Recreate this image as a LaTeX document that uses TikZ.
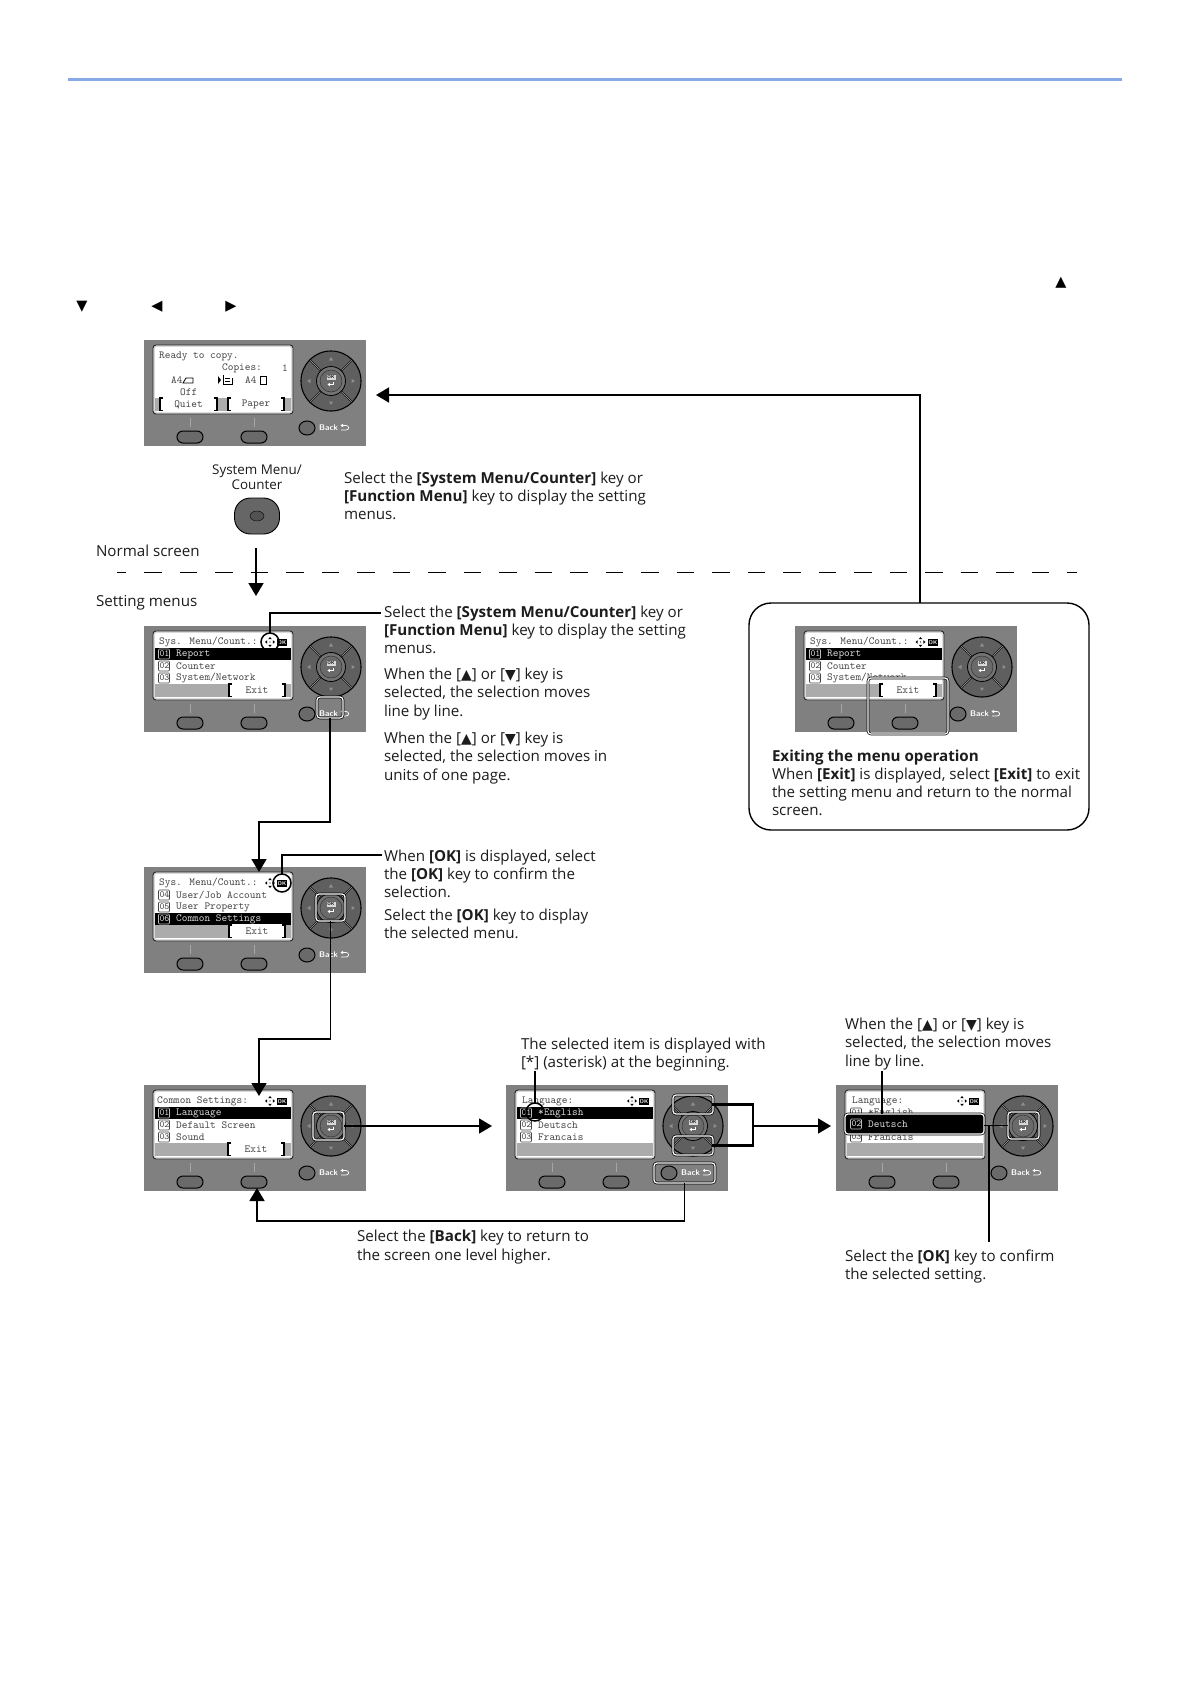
\documentclass[tikz,border=0pt]{standalone}
\usepackage{fontspec}
\setmainfont{Open Sans}
\newfontfamily\symf{DejaVu Sans}
\usetikzlibrary{arrows.meta,shapes.geometric}
\definecolor{ink}{HTML}{1C1C1C}
\definecolor{panelgray}{HTML}{808080}
\definecolor{keygray}{HTML}{6A6A6A}
\definecolor{barpale}{HTML}{ABABAB}
\definecolor{lcdink}{HTML}{444444}
\definecolor{rulecol}{HTML}{87A9E6}
\newcommand\tup{{\symf\fontsize{14}{14}\selectfont ▲}}
\newcommand\tdn{{\symf\fontsize{14}{14}\selectfont ▼}}
\newcommand\lcdf{\ttfamily}
\newcount\lcdn
\tikzset{
  x=1pt,y=-1pt,
  txt/.style={anchor=west,inner sep=0pt,outer sep=0pt,align=left,text=ink,font=\fontsize{15.15}{18.1}\selectfont},
  lcdt/.style={anchor=west,inner sep=0pt,text=lcdink,font=\lcdf\fontsize{10.8}{11}\selectfont},
  lcdw/.style={anchor=west,inner sep=0pt,text=black!15,font=\lcdf\fontsize{10.8}{11}\selectfont},
  panelbg/.style={anchor=north west,minimum width=222pt,minimum height=106pt,inner sep=0pt,outer sep=0pt,fill=panelgray},
  hl/.style={draw=black,double=white,double distance=1.2pt,line width=.7pt,rounded corners=3pt,inner sep=0pt,outer sep=0pt},
  callout/.style={circle,draw=black,line width=1.5pt,minimum size=18pt,inner sep=0pt,outer sep=0pt},
  conn/.style={draw=black,line width=1.6pt},
  arr/.style={conn,-{Triangle[length=13pt,width=15pt]}},
  softk/.style={line width=1.2pt,draw=black}
}
% one line of panel text
\newcommand\lt[4][lcdt]{\global\advance\lcdn by 1
  \node[#1] (lt\the\lcdn) at (#2,#3) {#4};}
% numbered row
\newcommand\lrow[3]{%
  \draw[lcdink,line width=.6pt,rounded corners=1pt] (14.5,#1-5) rectangle (25.5,#1+5);
  \lt[lcdt,font=\lcdf\fontsize{9.4}{10}\selectfont]{15.3}{#1}{#2}
  \lt{32}{#1}{#3}}
\newcommand\lrowsel[3]{%
  \fill[black] (11,#1-6) rectangle (147,#1+6);
  \draw[black!25,line width=.6pt,rounded corners=1pt] (14.5,#1-5) rectangle (25.5,#1+5);
  \lt[lcdw,font=\lcdf\fontsize{9.4}{10}\selectfont]{15.3}{#1}{#2}
  \lt[lcdw]{32}{#1}{#3}}
% soft key, right or left
\newcommand\softkey[3]{%
  \fill[white] (#1,57) rectangle (#2,71);
  \draw[softk] (#1+3,58) -- (#1,58) -- (#1,70.5) -- (#1+3,70.5);
  \draw[softk] (#2-3,58) -- (#2,58) -- (#2,70.5) -- (#2-3,70.5);
  \global\advance\lcdn by 1
  \node[lcdt,anchor=center] (sk\the\lcdn) at ({(#1+#2)/2},64.5) {#3};}
\newcommand\padicon[1]{%
  \begin{scope}[shift={(#1,16)}]
    \fill[black] (0,-5) -- (1.8,-2.8) -- (-1.8,-2.8) -- cycle
                 (0,5) -- (1.8,2.8) -- (-1.8,2.8) -- cycle
                 (-5,0) -- (-2.8,1.8) -- (-2.8,-1.8) -- cycle
                 (5,0) -- (2.8,1.8) -- (2.8,-1.8) -- cycle;
    \fill[black] (0,0) circle (.7);
  \end{scope}}
\newcommand\okicon{%
  \global\advance\lcdn by 1
  \fill[black] (133,12.5) rectangle (143,20);
  \node[inner sep=0pt,text=white,font=\sffamily\bfseries\fontsize{5.5}{6}\selectfont] (ok\the\lcdn) at (138,16.2) {OK};}
% the panel with its keys
\newcommand\lcdpanel[3]{%
  \global\advance\lcdn by 1
  \node[panelbg] (#3) at (#1,#2) {};
  \begin{scope}[shift={(#1,#2)}]
    \draw[fill=black!15,draw=black!85,line width=.9pt,rounded corners=3pt] (9,5) rectangle (149,74);
    \fill[white,rounded corners=2pt] (11,7) rectangle (147,72);
    \fill[barpale] (11,58) rectangle (147,71);
    \draw[black!35,line width=.7pt] (46,78) -- (46,87) (110,78) -- (110,87);
    \draw[black,line width=1pt,fill=keygray,rounded corners=6pt] (33,91) rectangle (59,103);
    \draw[black,line width=1pt,fill=keygray,rounded corners=6pt] (97,91) rectangle (123,103);
    \draw[black,line width=1pt,fill=keygray] (163,88) ellipse (8 and 7);
    \node[anchor=west,inner sep=0pt,text=white,font=\sffamily\bfseries\fontsize{8.2}{9}\selectfont] (bk\the\lcdn) at (175,88) {Back};
    \draw[white,line width=.7pt] (199,85.5) -- (202,85.5) .. controls (205.5,85.5) and (205.5,90) .. (202,90) -- (197,90);
    \fill[white] (196.5,85.5) -- (199,83.8) -- (199,87.2) -- cycle;
    \begin{scope}[shift={(187,41)}]
      \fill[keygray!90!black] (0,0) circle (30);
      \foreach \a in {45,135,225,315}
        \draw[black,double=black!35,double distance=.5pt,line width=.6pt] (\a:14.5) -- (\a:29.5);
      \draw[black,line width=1.1pt] (0,0) circle (30);
      \draw[black,line width=.8pt,fill=black!55] (0,0) circle (14.5);
      \draw[black!80,line width=.5pt,fill=keygray] (0,0) circle (11);
      \fill[black!45] (0,-24) -- (2.2,-20.5) -- (-2.2,-20.5) -- cycle
                      (0,24) -- (2.2,20.5) -- (-2.2,20.5) -- cycle
                      (-24,0) -- (-20.5,2.2) -- (-20.5,-2.2) -- cycle
                      (24,0) -- (20.5,2.2) -- (20.5,-2.2) -- cycle;
      \fill[black!15] (-4.5,-6.5) rectangle (4.5,-1);
      \node[inner sep=0pt,text=black,font=\sffamily\bfseries\fontsize{4.5}{5}\selectfont] (dk\the\lcdn) at (0,-3.7) {OK};
      \draw[white,line width=.7pt] (2.5,1) -- (2.5,3.5) -- (-1.5,3.5);
      \fill[white] (-3.5,3.5) -- (-1.2,1.9) -- (-1.2,5.1) -- cycle;
    \end{scope}
  \end{scope}}
\begin{document}
\begin{tikzpicture}
\useasboundingbox (0,0) rectangle (1190,1684);
\fill[white] (0,0) rectangle (1190,1684);
\coordinate (ruleL) at (68,79);
\coordinate (ruleR) at (1122,79);
\draw[rulecol,line width=3pt] (ruleL) -- (ruleR);
% loose triangles
\node[inner sep=0pt,text=black,font=\symf\fontsize{14.5}{15}\selectfont] (triA) at (1061,283) {▲};
\node[inner sep=0pt,text=black,font=\symf\fontsize{14.5}{15}\selectfont] (triB) at (82,307) {▼};
\node[inner sep=0pt,text=black,font=\symf\fontsize{14.5}{15}\selectfont] (triC) at (157,307) {◀};
\node[inner sep=0pt,text=black,font=\symf\fontsize{14.5}{15}\selectfont] (triD) at (231,307) {▶};
% separator
\coordinate (dashL) at (117,572);
\coordinate (dashR) at (1077,572);
\draw[black,line width=1pt,dash pattern=on 17.5pt off 18pt,dash phase=8.5pt] (dashL) -- (dashR);
% exit frame
\node[draw=black,line width=1.4pt,rounded corners=22pt,minimum width=340pt,minimum height=227pt,inner sep=0pt,outer sep=0pt,fill=white] (exitbox) at (919,716.5) {};

% ---------- panel 1
\lcdpanel{144}{340}{pa}
\begin{scope}[shift={(144,340)}]
  \lt{15}{16}{Ready to copy.}
  \lt{78}{28}{Copies:}
  \lt{138}{28}{1}
  \lt{27}{40}{A4}
  \lt{101}{40}{A4}
  \lt{36}{52}{Off}
  \draw[black,line width=.8pt,fill=white] (39,43) -- (42,38) -- (49,38) -- (49,43) -- cycle;
  \draw[black,line width=.9pt,fill=white] (116,36) -- (122,36) -- (122,44) -- (116,44) -- cycle;
  \fill[black] (74,36) -- (77,40) -- (74,44) -- cycle;
  \draw[black,line width=.8pt] (79,35) -- (79,44) -- (88,44) -- (88,38);
  \draw[black,line width=.8pt] (81,38) -- (86,38) (81,41) -- (86,41);
  \softkey{16}{73}{Quiet}
  \softkey{84}{140}{Paper}
\end{scope}

% ---------- key
\node[anchor=center,inner sep=0pt,align=center,text=ink,font=\fontsize{13.4}{14.6}\selectfont] (keylabel) at (257,477) {System Menu/\\Counter};
\node[draw=black,line width=.9pt,fill=black!60,rounded corners=16pt,minimum width=45pt,minimum height=36pt,inner sep=0pt,outer sep=0pt] (key) at (257,516) {};
\node[ellipse,draw=black,fill=black!68,minimum width=14pt,minimum height=10pt,inner sep=0pt] (keydot) at (257,516) {};
\coordinate (keystart) at (256,548);
\coordinate (keyend) at (256,596);
\draw[arr] (keystart) -- (keyend);

\node[txt] (t1) at (344,496) {Select the \textbf{[System Menu/Counter]} key or\\\textbf{[Function Menu]} key to display the setting\\menus.};
\node[txt] (tn) at (96,551) {Normal screen};
\node[txt] (ts) at (96,603) {Setting menus};

% ---------- panel 2
\lcdpanel{144}{626}{pb}
\begin{scope}[shift={(144,626)}]
  \lt{15}{16}{Sys. Menu/Count.:}
  \lrowsel{28}{01}{Report}
  \lrow{40}{02}{Counter}
  \lrow{52}{03}{System/Network}
  \padicon{126}
  \okicon
  \softkey{85}{141}{Exit}
\end{scope}
\node[callout] (cb) at (270,642) {};
\node[hl,minimum width=26pt,minimum height=21pt] (hb) at (330,707.5) {};
\coordinate (eb) at (381,613);
\draw[conn] (cb.north) |- (eb);
\node[txt] (t2a) at (384,630) {Select the \textbf{[System Menu/Counter]} key or\\\textbf{[Function Menu]} key to display the setting\\menus.};
\node[txt] (t2b) at (384,694) {When the [\tup] or [\tdn] key is\\selected, the selection moves\\line by line.};
\node[txt] (t2c) at (384,758) {When the [\tup] or [\tdn] key is\\selected, the selection moves in\\units of one page.};

% ---------- panel 3
\lcdpanel{144}{867}{pc}
\begin{scope}[shift={(144,867)}]
  \lt{15}{16}{Sys. Menu/Count.:}
  \lrow{28}{04}{User/Job Account}
  \lrow{40}{05}{User Property}
  \lrowsel{52}{06}{Common Settings}
  \padicon{126}
  \okicon
  \softkey{85}{141}{Exit}
\end{scope}
\node[callout] (cc) at (282,883) {};
\node[hl,minimum width=29pt,minimum height=27pt] (hc) at (330.5,907.5) {};
\coordinate (ec) at (382,855);
\draw[conn] (cc.north) |- (ec);
\node[txt] (t3a) at (384,874) {When \textbf{[OK]} is displayed, select\\the \textbf{[OK]} key to confirm the\\selection.};
\node[txt] (t3b) at (384,924) {Select the \textbf{[OK]} key to display\\the selected menu.};
\coordinate (jb) at (259,822);
\draw[arr] (hb.south) |- (jb) -- ([yshift=-5pt]pc.north -| jb);

% ---------- panel 4
\lcdpanel{144}{1085}{pd}
\begin{scope}[shift={(144,1085)}]
  \lt{13}{16}{Common Settings:}
  \lrowsel{28}{01}{Language}
  \lrow{40}{02}{Default Screen}
  \lrow{52}{03}{Sound}
  \padicon{126}
  \okicon
  \softkey{84}{140}{Exit}
\end{scope}
\node[hl,minimum width=31pt,minimum height=28pt] (hd) at (328.5,1126) {};
\coordinate (jc) at (259,1039);
\draw[arr] (hc.south) |- (jc) -- ([yshift=-11pt]pd.north -| jc);

% ---------- exit panel
\lcdpanel{795}{626}{pe}
\begin{scope}[shift={(795,626)}]
  \lt{15}{16}{Sys. Menu/Count.:}
  \lrowsel{28}{01}{Report}
  \lrow{40}{02}{Counter}
  \lrow{52}{03}{System/Network}
  \padicon{125.5}
  \okicon
  \fill[white] (73,52) rectangle (147,57);
  \softkey{85}{141}{Exit}
\end{scope}
\node[hl,minimum width=80pt,minimum height=56pt] (he) at (908,706) {};
\coordinate (pat) at ([yshift=-2pt]pa.east);
\draw[arr] ([xshift=1pt]exitbox.north) |- ([xshift=10pt]pat);
\node[txt] (t5) at (772,782.5) {\textbf{Exiting the menu operation}\\When \textbf{[Exit]} is displayed, select \textbf{[Exit]} to exit\\the setting menu and return to the normal\\screen.};

% ---------- panel 6
\lcdpanel{506}{1085}{pf}
\begin{scope}[shift={(506,1085)}]
  \lt{16}{16}{Language:}
  \lrowsel{28}{01}{*English}
  \lrow{40}{02}{Deutsch}
  \lrow{52}{03}{Francais}
  \padicon{126}
  \okicon
\end{scope}
\node[callout] (cf) at (535,1112) {};
\coordinate (ef) at (535,1071);
\draw[conn] (cf.north) -- (ef);
\node[hl,minimum width=40pt,minimum height=19pt] (hfu) at (693,1104.5) {};
\node[hl,minimum width=40pt,minimum height=19pt] (hfd) at (693,1145.5) {};
\node[hl,minimum width=61pt,minimum height=20pt] (hfb) at (684.5,1173) {};
\coordinate (jf) at (753,1126);
\coordinate (jg) at (257,1221);
\coordinate (jh) at (257,1188);
\draw[conn,line width=2.2pt,line cap=rect] (hfu.east) -| (jf) |- (hfd.east);
\draw[arr] (hfb.south) |- (jg) -- (jh);
\draw[arr] (hd.east) -- ([xshift=-14pt]pf.west |- hd.east);

% ---------- panel 7
\lcdpanel{836}{1085}{pg}
\begin{scope}[shift={(836,1085)}]
  \lt{16}{16}{Language:}
  \lrow{28}{01}{*English}
  \lrow{52}{03}{Francais}
  \padicon{126}
  \okicon
\end{scope}
\node[hl,fill=black,minimum width=139pt,minimum height=20pt] (hg) at (914.5,1124) {};
\begin{scope}[shift={(836,1085)}]
  \draw[black!25,line width=.6pt,rounded corners=1pt] (14.5,34) rectangle (25.5,44);
  \lt[lcdw,font=\lcdf\fontsize{9.4}{10}\selectfont]{15.3}{39}{02}
  \lt[lcdw]{32}{39}{Deutsch}
\end{scope}
\node[hl,minimum width=31pt,minimum height=27pt] (hok) at (1023.5,1125.5) {};
\coordinate (kg) at (989,1125.5);
\coordinate (lg) at (989,1242);
\coordinate (ug) at (882,1071);
\draw[arr] (jf) -- ([xshift=-5pt]pg.west |- jf);
\draw[conn] (hok.west) -- (kg);
\draw[conn] (hg.east |- kg) -- (kg) -- (lg);
\draw[conn] (hg.north -| ug) -- (ug);
\node[txt] (t6a) at (521,1055) {The selected item is displayed with\\{[*]} (asterisk) at the beginning.};
\node[txt] (t7a) at (845,1044) {When the [\tup] or [\tdn] key is\\selected, the selection moves\\line by line.};
\node[txt] (t6b) at (357,1247) {Select the \textbf{[Back]} key to return to\\the screen one level higher.};
\node[txt] (t7b) at (845,1266.5) {Select the \textbf{[OK]} key to confirm\\the selected setting.};
\end{tikzpicture}
\end{document}
